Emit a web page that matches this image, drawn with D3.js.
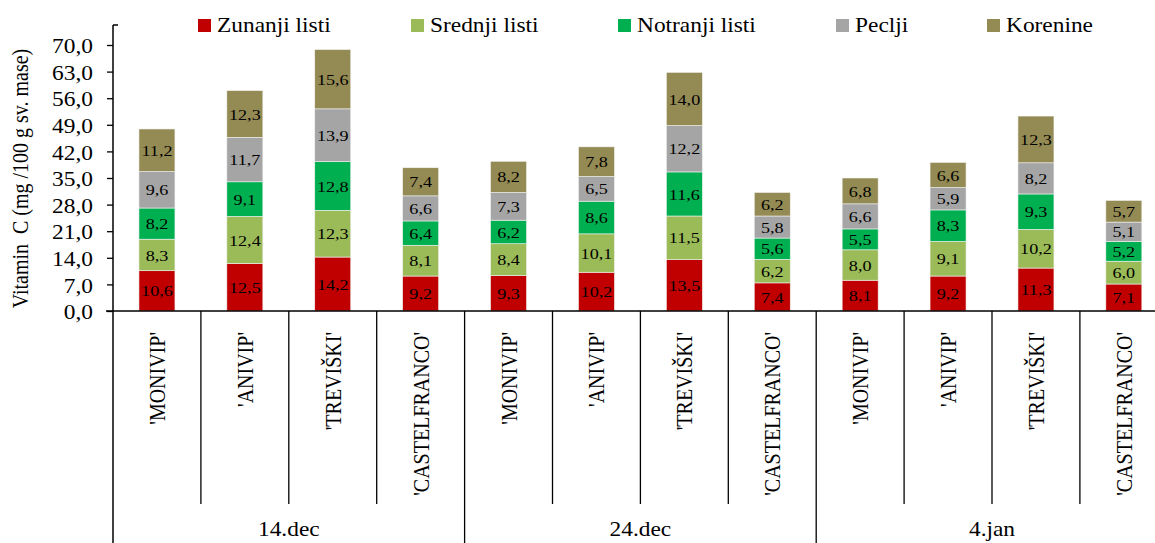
<!DOCTYPE html>
<html>
<head>
<meta charset="utf-8">
<script src="https://cdn.jsdelivr.net/npm/d3@7"></script>
<style>
  html, body { margin: 0; padding: 0; background: #fff; }
  svg { display: block; font-family: "Liberation Serif", "Times New Roman", serif; }
</style>
</head>
<body>
<svg id="chart" width="1155" height="543"></svg>
<script>
// Sampling dates and cultivars
const dates = ["14.dec", "24.dec", "4.jan"];
const cultivars = ["'MONIVIP'", "'ANIVIP'", "'TREVIŠKI'", "'CASTELFRANCO'"];

// Plant parts (stack order, bottom to top)
const parts = ["Zunanji listi", "Srednji listi", "Notranji listi", "Peclji", "Korenine"];
const partColors = ["#C00000", "#9BBB59", "#00B050", "#A5A5A5", "#948A54"];

// Vitamin C per part, one entry per date × cultivar (same order as above)
const zunanji  = [10.6, 12.5, 14.2, 9.2,   9.3, 10.2, 13.5, 7.4,   8.1, 9.2, 11.3, 7.1];
const srednji  = [ 8.3, 12.4, 12.3, 8.1,   8.4, 10.1, 11.5, 6.2,   8.0, 9.1, 10.2, 6.0];
const notranji = [ 8.2,  9.1, 12.8, 6.4,   6.2,  8.6, 11.6, 5.6,   5.5, 8.3,  9.3, 5.2];
const peclji   = [ 9.6, 11.7, 13.9, 6.6,   7.3,  6.5, 12.2, 5.8,   6.6, 5.9,  8.2, 5.1];
const korenine = [11.2, 12.3, 15.6, 7.4,   8.2,  7.8, 14.0, 6.2,   6.8, 6.6, 12.3, 5.7];

const yTicks = [0, 7, 14, 21, 28, 35, 42, 49, 56, 63, 70];
const yTitle = "Vitamin  C (mg /100 g sv. mase)";

// ---- build rows for the stack ----
const seriesArrays = [zunanji, srednji, notranji, peclji, korenine];
const rows = [];
dates.forEach((d, di) => {
  cultivars.forEach((c, ci) => {
    const i = di * cultivars.length + ci;
    const row = { key: d + "|" + c, date: d, cultivar: c };
    parts.forEach((p, pi) => { row[p] = seriesArrays[pi][i]; });
    rows.push(row);
  });
});

const svg = d3.select("#chart");
const W = 1155, H = 543;
const left = 113, bandW = 87.9;
const axisY = 311;
const SX = 1.17;              // horizontal text stretch
const fs = 20;                // general font size
const fsData = 15.5;          // value label font size

const x = d3.scaleBand()
  .domain(rows.map(r => r.key))
  .range([left, left + bandW * rows.length])
  .paddingInner(0).paddingOuter(0);

const y = d3.scaleLinear().domain([0, 70]).range([axisY, 45]);

const stack = d3.stack().keys(parts)(rows);
const barW = 36;

// ---- bars ----
const gBars = svg.append("g");
stack.forEach((layer, li) => {
  const g = gBars.append("g").attr("fill", partColors[li]);
  g.selectAll("rect").data(layer).join("rect")
    .attr("x", d => x(d.data.key) + x.bandwidth() / 2 - barW / 2)
    .attr("width", barW)
    .attr("y", d => y(d[1]))
    .attr("height", d => y(d[0]) - y(d[1]))
    .attr("stroke", "#f2f2f2")
    .attr("stroke-width", 0.6);
});

// ---- value labels ----
const fmt = v => v.toFixed(1).replace(".", ",");
stack.forEach((layer, li) => {
  svg.append("g").selectAll("text").data(layer).join("text")
    .attr("transform", d => {
      const cx = x(d.data.key) + x.bandwidth() / 2;
      const cy = (y(d[0]) + y(d[1])) / 2;
      return `translate(${cx},${cy}) scale(${SX},1)`;
    })
    .attr("text-anchor", "middle")
    .attr("dy", "0.36em")
    .attr("font-size", fsData)
    .attr("fill", "#000")
    .text(d => fmt(d[1] - d[0]));
});

// ---- y axis ----
const yAxis = d3.axisLeft(y).tickValues(yTicks).tickSize(6).tickSizeOuter(0)
  .tickFormat(v => v.toFixed(1).replace(".", ","));
const gy = svg.append("g").attr("transform", `translate(${left},0)`).call(yAxis);
gy.select(".domain").remove();
gy.selectAll(".tick line").attr("stroke", "#000").attr("stroke-width", 1.3);
gy.selectAll(".tick text")
  .attr("x", -20 / SX)
  .attr("dy", "0.38em")
  .attr("transform", `scale(${SX},1)`)
  .attr("font-size", fs)
  .attr("font-family", "Liberation Serif, Times New Roman, serif")
  .attr("fill", "#000");

// axis lines
const lines = svg.append("g").attr("stroke", "#000").attr("stroke-width", 1.5);
lines.append("line").attr("x1", left).attr("x2", left).attr("y1", 25).attr("y2", H);
lines.append("line").attr("x1", left).attr("x2", left + 5).attr("y1", 25).attr("y2", 25);
lines.append("line").attr("x1", left - 7).attr("x2", W).attr("y1", axisY).attr("y2", axisY);

// category separators and date group separators
rows.forEach((r, i) => {
  if (i === 0) return;
  const xx = x(r.key);
  const isGroup = i % cultivars.length === 0;
  lines.append("line")
    .attr("x1", xx).attr("x2", xx)
    .attr("y1", axisY).attr("y2", isGroup ? H : 504)
    .attr("stroke-width", 1.3);
});

// cultivar labels (rotated)
svg.append("g").selectAll("text").data(rows).join("text")
  .attr("transform", d => `translate(${x(d.key) + x.bandwidth() / 2},332) scale(${SX},1) rotate(-90)`)
  .attr("text-anchor", "end")
  .attr("dy", "0.34em")
  .attr("font-size", fs)
  .attr("fill", "#000")
  .text(d => d.cultivar);

// date labels
dates.forEach((d, di) => {
  const first = rows[di * cultivars.length].key;
  const last = rows[di * cultivars.length + cultivars.length - 1].key;
  const cx = (x(first) + x(last) + x.bandwidth()) / 2;
  svg.append("text")
    .attr("transform", `translate(${cx},536) scale(${SX},1)`)
    .attr("text-anchor", "middle")
    .attr("font-size", fs)
    .attr("fill", "#000")
    .text(d);
});

// y axis title
svg.append("text")
  .attr("transform", `translate(28,178.5) scale(${SX},1) rotate(-90)`)
  .attr("text-anchor", "middle")
  .attr("font-size", fs)
  .attr("fill", "#000")
  .style("white-space", "pre")
  .text(yTitle);

// ---- legend ----
const legendX = [198, 411, 618, 836, 987];
const lg = svg.append("g");
parts.forEach((p, i) => {
  lg.append("rect")
    .attr("x", legendX[i]).attr("y", 19)
    .attr("width", 13).attr("height", 13)
    .attr("fill", partColors[i]);
  lg.append("text")
    .attr("transform", `translate(${legendX[i] + 19},32) scale(${SX},1)`)
    .attr("font-size", fs)
    .attr("fill", "#000")
    .text(p);
});
</script>
</body>
</html>
